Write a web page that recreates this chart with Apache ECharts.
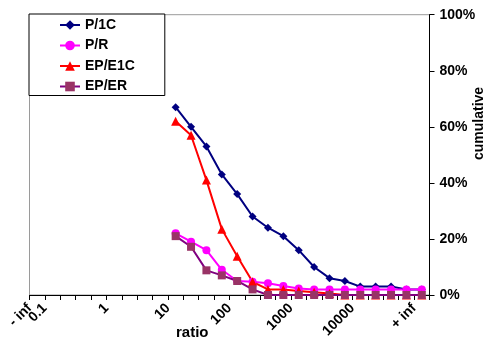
<!DOCTYPE html>
<html>
<head>
<meta charset="utf-8">
<script src="https://cdn.jsdelivr.net/npm/echarts@6/dist/echarts.min.js"></script>
<style>html,body{margin:0;padding:0;background:#fff;}#c{width:484px;height:345px;}</style>
</head>
<body>
<div id="c"></div>
<script>
// bins (26 bins between 27 boundaries)
var bins = [];
for (var b = 0; b < 26; b++) bins.push('bin' + b);
// boundary tick labels (27 boundaries)
var boundaryLabels = ['- inf','0.1','','','','1','','','','10','','','','100','','','','1000','','','','10000','','','','+ inf',''];

var seriesNames = ['P/1C','P/R','EP/E1C','EP/ER'];
var N = null;
var p1c  = [N,N,N,N,N,N,N,N,N, 67, 60, 53, 43, 36, 28, 24, 21, 16, 10, 6, 5, 3, 3, 3, 2, 2];
var pr   = [N,N,N,N,N,N,N,N,N, 22, 19, 16, 9, 5, 4.7, 4.2, 3.2, 2.3, 2, 2, 2, 2, 2, 2, 2, 2];
var ep1c = [N,N,N,N,N,N,N,N,N, 62, 57, 41, 23.5, 13.8, 4.7, 2, 2, 1.4, 1, 0.5, 0, 0, 0, 0, 0, 0];
var eper = [N,N,N,N,N,N,N,N,N, 21, 17.2, 8.8, 7, 5, 2, 0, 0, 0, 0, 0, 0, 0, 0, 0, 0, 0];
var yTicks = [0, 20, 40, 60, 80, 100];

var FONT = '"Liberation Sans", Arial, sans-serif';
var chart = echarts.init(document.getElementById('c'), null, {renderer: 'canvas'});
function mk(name, data, color, lineColor, symbol, size) {
  return {
    name: name, type: 'line', data: data, xAxisIndex: 0,
    symbol: symbol, symbolSize: size, showAllSymbol: true,
    lineStyle: {color: lineColor, width: 2},
    itemStyle: {color: color, borderWidth: 0},
    emphasis: {disabled: true}, animation: false, connectNulls: false
  };
}
chart.setOption({
  animation: false,
  grid: {left: 29.5, right: 54.5, top: 14.7, bottom: 50, show: true, borderColor: '#9a9a9a', borderWidth: 1, containLabel: false},
  legend: {
    data: seriesNames, orient: 'vertical', left: 29, top: 14,
    padding: [4, 30, 2, 30], itemGap: 6.5, itemWidth: 20, itemHeight: 12,
    backgroundColor: '#fff', borderColor: '#000', borderWidth: 1, borderRadius: 0,
    textStyle: {fontFamily: FONT, fontWeight: 'bold', fontSize: 14, color: '#000'}
  },
  xAxis: [{
    type: 'category', data: bins, boundaryGap: true, position: 'bottom',
    axisLine: {lineStyle: {color: '#000', width: 1}},
    axisTick: {show: true, length: 5, interval: 0, lineStyle: {color: '#000'}},
    axisLabel: {show: false}, splitLine: {show: false}
  }, {
    type: 'category', data: boundaryLabels, boundaryGap: false, position: 'bottom',
    axisLine: {show: false}, axisTick: {show: false}, splitLine: {show: false},
    axisLabel: {show: true, interval: 0, rotate: 45, margin: 11, fontFamily: FONT, fontWeight: 'bold', fontSize: 14, color: '#000'}
  }],
  yAxis: {
    type: 'value', position: 'right', min: 0, max: 100, interval: 20,
    axisLine: {show: true, lineStyle: {color: '#000', width: 1}},
    axisTick: {show: true, length: 5, lineStyle: {color: '#000'}},
    splitLine: {show: false},
    axisLabel: {margin: 10, formatter: '{value}%', fontFamily: FONT, fontWeight: 'bold', fontSize: 14, color: '#000'}
  },
  graphic: [
    {type: 'text', left: 176, top: 325, style: {text: 'ratio', font: 'bold 15px ' + FONT, fill: '#000'}},
    {type: 'text', x: 472, y: 160, rotation: Math.PI / 2, style: {text: 'cumulative', font: 'bold 14px ' + FONT, fill: '#000', textVerticalAlign: 'top'}}
  ],
  series: [
    mk(seriesNames[0], p1c, '#000080', '#000080', 'diamond', 8),
    mk(seriesNames[1], pr, '#FF00FF', '#FF00FF', 'circle', 8),
    mk(seriesNames[2], ep1c, '#FF0000', '#FF0000', 'triangle', 9),
    mk(seriesNames[3], eper, '#993366', '#800080', 'rect', 8)
  ]
});
</script>
</body>
</html>
